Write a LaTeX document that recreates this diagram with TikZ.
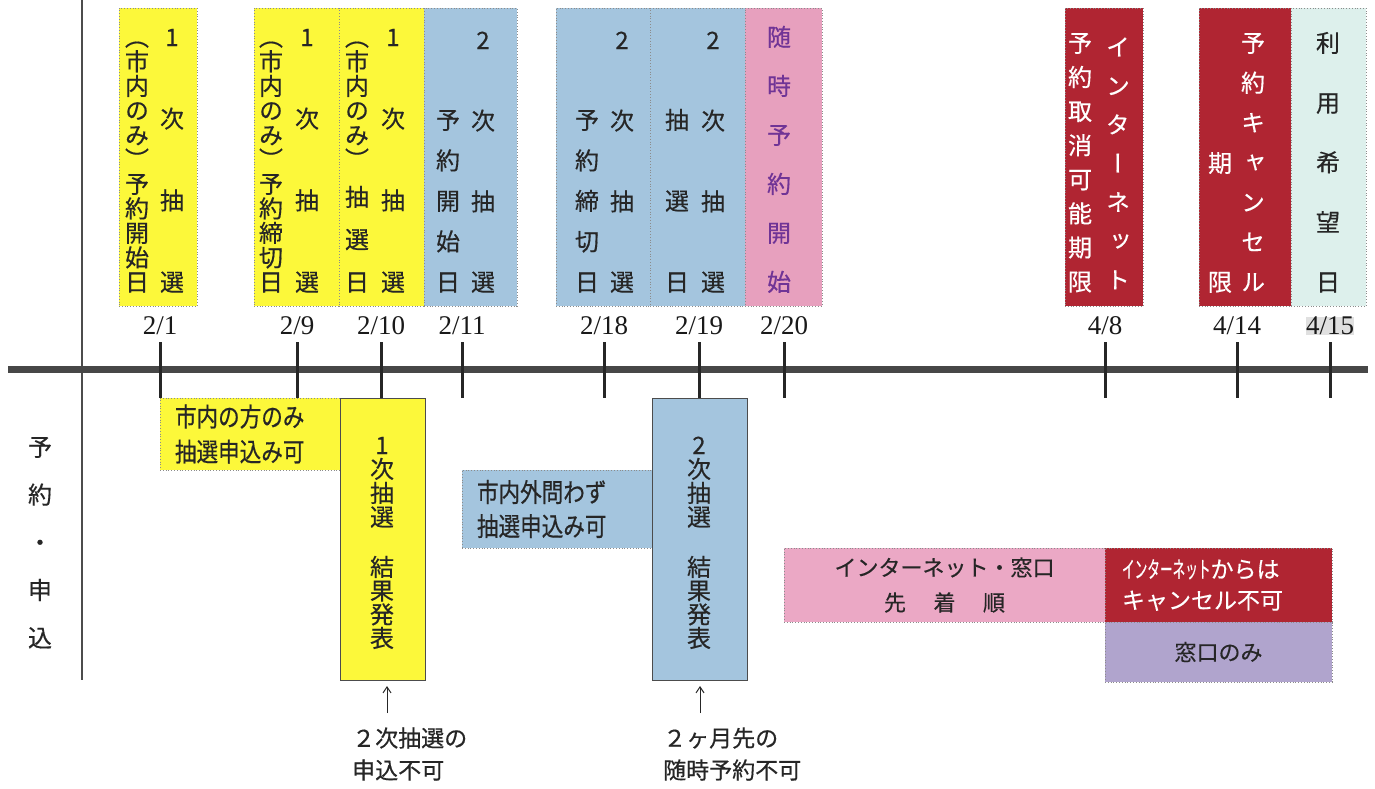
\documentclass[tikz,border=0pt]{standalone}
\usepackage{fontspec}
\setmainfont{Liberation Serif}
\newfontfamily\jp[FakeBold=0.4]{Noto Sans CJK JP}
\newfontfamily\jpcond[FakeStretch=0.83,FakeBold=0.5]{Noto Sans CJK JP}
\newfontfamily\tatefont[RawFeature=+vert,FakeBold=0.4]{Noto Sans CJK JP}
\usetikzlibrary{positioning,arrows.meta}

\definecolor{yelbox}{RGB}{252,248,58}
\definecolor{blubox}{RGB}{164,197,222}
\definecolor{pnkbox}{RGB}{231,160,190}
\definecolor{pnklow}{RGB}{235,168,197}
\definecolor{redbox}{RGB}{176,37,50}
\definecolor{cynbox}{RGB}{221,240,236}
\definecolor{vltbox}{RGB}{176,164,205}
\definecolor{vlttext}{RGB}{112,52,150}

\tikzset
{
    tatechar/.style = {font=\tatefont\fontsize{24}{24}\selectfont, inner sep=0pt, text height=21pt, text depth=3pt, text=black!85},
    topbox/.style = {draw=black!45, dotted, line width=0.8pt, minimum height=298pt, inner sep=0pt, outer sep=0pt, anchor=north west},
    lowbox/.style = {draw=black!45, dotted, line width=0.8pt, inner sep=0pt, outer sep=0pt, anchor=north west, text=black!85},
    tallbox/.style = {draw=black!70, line width=1pt, minimum height=282pt, inner sep=0pt, outer sep=0pt, anchor=north west},
    datelbl/.style = {font=\fontsize{27}{27}\selectfont, inner sep=0pt, text=black!90},
    hidate/.style = {datelbl, fill=black!12},
    tick/.style = {line width=3pt, black!85},
    axisline/.style = {line width=7pt, black!72},
    note/.style = {font=\jp\fontsize{23}{32}\selectfont, align=left, inner sep=0pt, anchor=west, text=black!85},
    uparrow/.style = {-{Straight Barb[length=6pt,width=8pt]}, line width=1pt, black!85, shorten >=6pt}
}

% one column of upright characters, top to bottom
\newcommand{\tatecol}[6]{%
  \foreach \zi [count=\idx from 0] in {#6}
    \node[tatechar,#5] (#1\idx) at (#2,#3+#4*\idx) {\zi};}

\begin{document}
\begin{tikzpicture}[x=1pt,y=-1pt]
\useasboundingbox[fill=white] (0,0) rectangle (1375,788);

% left rule and side label
\coordinate (rl0) at (82,0);
\coordinate (rl1) at (82,680);
\draw[line width=1.2pt, black!70] (rl0) -- (rl1);
\tatecol{side-}{40}{447}{47.7}{}{予,約,・,申,込}

% top boxes
\node[topbox, fill=yelbox, minimum width=78pt] (b201) at (119,8) {};
\node[topbox, fill=yelbox, minimum width=85pt] (b209) at (254,8) {};
\node[topbox, fill=yelbox, minimum width=85pt, right=0pt of b209] (b210) {};
\node[topbox, fill=blubox, minimum width=93pt, right=0pt of b210] (b211) {};
\node[topbox, fill=blubox, minimum width=94pt] (b218) at (556,8) {};
\node[topbox, fill=blubox, minimum width=95pt, right=0pt of b218] (b219) {};
\node[topbox, fill=pnkbox, minimum width=77pt, right=0pt of b219] (b220) {};
\node[topbox, fill=redbox, minimum width=78pt] (b408) at (1065,8) {};
\node[topbox, fill=redbox, minimum width=92pt] (b414) at (1199,8) {};
\node[topbox, fill=cynbox, minimum width=75pt, right=0pt of b414] (b415) {};

\tatecol{r201-}{172}{37}{81.7}{}{1,次,抽,選}
\tatecol{l201-}{137}{37}{24.5}{}{︵,市,内,の,み,︶,予,約,開,始,日}
\tatecol{r209-}{307}{37}{81.7}{}{1,次,抽,選}
\tatecol{l209-}{271}{37}{24.5}{}{︵,市,内,の,み,︶,予,約,締,切,日}
\tatecol{r210-}{393}{37}{81.7}{}{1,次,抽,選}
\tatecol{l210-}{357}{37}{24.5}{}{︵,市,内,の,み,︶}
\tatecol{m210-}{357}{197}{42.5}{}{抽,選,日}
\tatecol{r211-}{483}{40}{80.7}{}{2,次,抽,選}
\tatecol{l211-}{448}{120}{40.5}{}{予,約,開,始,日}
\tatecol{r218-}{622}{40}{80.7}{}{2,次,抽,選}
\tatecol{l218-}{587}{120}{40.5}{}{予,約,締,切,日}
\tatecol{r219-}{713}{40}{80.7}{}{2,次,抽,選}
\tatecol{l219-}{677}{120}{81}{}{抽,選,日}
\tatecol{c220-}{779}{37}{49}{text=vlttext}{随,時,予,約,開,始}
\tatecol{r408-}{1118}{47}{38.8}{text=white}{イ,ン,タ,ー,ネ,ッ,ト}
\tatecol{l408-}{1080}{43}{34.1}{text=white}{予,約,取,消,可,能,期,限}
\tatecol{r414-}{1253}{43}{39.8}{text=white}{予,約,キ,ャ,ン,セ,ル}
\tatecol{l414-}{1220}{163}{119}{text=white}{期,限}
\tatecol{c415-}{1328}{43}{59.75}{}{利,用,希,望,日}

% time axis with dates
\coordinate (ax0) at (8,369);
\coordinate (ax1) at (1368,369);
\draw[axisline] (ax0) -- (ax1);
\foreach \x/\m/\dd/\sty [count=\idx] in {160/2/1/datelbl, 297/2/9/datelbl, 381/2/10/datelbl, 462/2/11/datelbl, 604/2/18/datelbl, 699/2/19/datelbl, 784/2/20/datelbl, 1105/4/8/datelbl, 1237/4/14/datelbl, 1330/4/15/hidate}
{
  \node[\sty] (d\idx) at (\x,326) {\m/\dd};
  \draw[tick] (\x,342) -- (\x,398);
}

% lower boxes
\node[lowbox, fill=yelbox, minimum width=180pt, minimum height=72pt, inner xsep=15pt, text width=150pt, align=left, font=\jpcond\fontsize{26}{35}\selectfont] (sinai) at (160,398) {市内の方のみ\\抽選申込み可};
\node[tallbox, fill=yelbox, minimum width=85pt] (kekka1) at (340,398) {};
\tatecol{k1a-}{382}{445}{24}{}{1,次,抽,選}
\tatecol{k1b-}{382}{567}{23.7}{}{結,果,発,表}

\node[lowbox, fill=blubox, minimum width=190pt, minimum height=78pt, inner xsep=15pt, text width=160pt, align=left, font=\jpcond\fontsize{26}{34}\selectfont] (sotogai) at (462,470) {市内外問わず\\抽選申込み可};
\node[tallbox, fill=blubox, minimum width=95pt] (kekka2) at (652,398) {};
\tatecol{k2a-}{699}{445}{24}{}{2,次,抽,選}
\tatecol{k2b-}{699}{567}{23.7}{}{結,果,発,表}

\node[lowbox, fill=pnklow, minimum width=321pt, minimum height=74pt, align=center, font=\jp\fontsize{22}{35}\selectfont] (senchaku) at (784,548) {インターネット・窓口\\先\hspace{1.25em}着\hspace{1.25em}順};
\node[lowbox, fill=redbox, minimum width=227pt, minimum height=74pt, inner xsep=17pt, text width=193pt, align=left, text=white, font=\jp\fontsize{23}{31}\selectfont] (cancel) at (1105,548) {\scalebox{0.55}[1]{インターネット}からは\\キャンセル不可};
\node[lowbox, fill=vltbox, minimum width=227pt, minimum height=60pt, font=\jp\fontsize{22}{22}\selectfont] (madoguchi) at (1105,622) {窓口のみ};

% notes under the result boxes
\node[note] (note1) at (352,754) {２次抽選の\\申込不可};
\node[note] (note2) at (663,754) {２ヶ月先の\\随時予約不可};
\coordinate (up1) at (387,713);
\coordinate (up2) at (700,713);
\draw[uparrow] (up1) -- (up1 |- kekka1.south);
\draw[uparrow] (up2) -- (up2 |- kekka2.south);
\end{tikzpicture}
\end{document}
